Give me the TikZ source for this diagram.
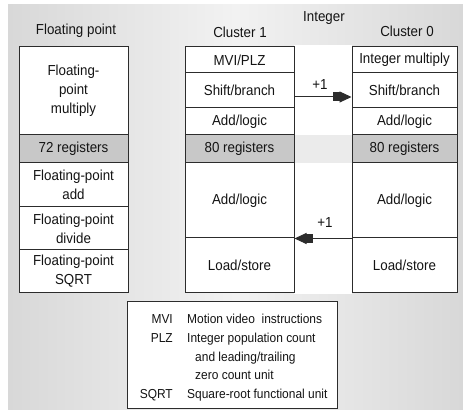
\documentclass[tikz,border=0pt]{standalone}
\usepackage{fontspec}
\setmainfont{Liberation Sans}[FakeStretch=0.92]
\usetikzlibrary{arrows.meta}
\definecolor{linec}{HTML}{2C2C2C}
\definecolor{regc}{HTML}{C8C8C8}
\definecolor{txtc}{HTML}{141414}
\definecolor{bgc}{HTML}{D8D8D8}
\definecolor{bgmid}{HTML}{F2F2F2}
\definecolor{bandc}{HTML}{EBEBEB}
\begin{document}
\begin{tikzpicture}[x=1pt,y=-1pt,
 cell/.style={draw=linec, line width=1pt, fill=white, inner sep=0pt, align=center, text=txtc, font=\fontsize{14.5}{19}\selectfont},
 reg/.style={cell, fill=regc},
 title/.style={text=txtc, font=\fontsize{14.5}{16}\selectfont, inner sep=0pt, anchor=base},
 leg/.style={text=txtc, font=\fontsize{13}{14}\selectfont, inner sep=0pt},
 arr/.style={draw=linec, line width=1pt, -{Rectangle[length=8pt,width=9pt,sep=-1.5pt]Triangle[length=12pt,width=11pt]}, fill=black},
 fpw/.style={minimum width=109pt},
 c1w/.style={minimum width=109pt},
 c0w/.style={minimum width=105pt},
]
\useasboundingbox (0,0) rectangle (463,411);
\fill[white] (0,0) rectangle (463,411);
\shade[left color=bgc, right color=bgc, middle color=bgmid] (8,5) rectangle (463,409);
\fill[white] (294,45) rectangle (352,294);
\fill[bandc] (294,135) rectangle (352,163);

% titles
\node[title] (tfp) at (76,35) {Floating point};
\node[title] (tc1) at (240,38) {Cluster 1};
\node[title] (tint) at (324,22) {Integer};
\node[title] (tc0) at (407,37) {Cluster 0};

% floating point column
\node[cell, fpw, minimum height=88pt] (fpmul) at (73.5,91) {Floating-\\point\\multiply};
\node[reg, fpw, minimum height=28pt] (fpreg) at (73.5,149) {72 registers};
\node[cell, fpw, minimum height=44pt] (fpadd) at (73.5,185) {Floating-point\\add};
\node[cell, fpw, minimum height=43pt] (fpdiv) at (73.5,228.5) {Floating-point\\divide};
\node[cell, fpw, minimum height=43pt] (fpsqrt) at (73.5,271.5) {Floating-point\\SQRT};

% cluster 1
\node[cell, c1w, minimum height=26pt] (c1mvi) at (239.5,60) {MVI/PLZ};
\node[cell, c1w, minimum height=35pt] (c1shift) at (239.5,90.5) {Shift/branch};
\node[cell, c1w, minimum height=27pt] (c1add) at (239.5,121.5) {Add/logic};
\node[reg, c1w, minimum height=28pt] (c1reg) at (239.5,149) {80 registers};
\node[cell, c1w, minimum height=75pt] (c1add2) at (239.5,200.5) {Add/logic};
\node[cell, c1w, minimum height=55pt] (c1ls) at (239.5,265.5) {Load/store};

% cluster 0
\node[cell, c0w, minimum height=26pt] (c0mul) at (404.5,60) {Integer multiply};
\node[cell, c0w, minimum height=35pt] (c0shift) at (404.5,90.5) {Shift/branch};
\node[cell, c0w, minimum height=27pt] (c0add) at (404.5,121.5) {Add/logic};
\node[reg, c0w, minimum height=28pt] (c0reg) at (404.5,149) {80 registers};
\node[cell, c0w, minimum height=75pt] (c0add2) at (404.5,200.5) {Add/logic};
\node[cell, c0w, minimum height=55pt] (c0ls) at (404.5,265.5) {Load/store};

% connectors
\coordinate (ya) at (0,97);
\draw[arr] (c1shift.east |- ya) -- (c0shift.west |- ya);
\node[title] (p1a) at (320,90) {+1};
\draw[arr] (c0add2.south west) -- (c1add2.south east);
\node[title] (p1b) at (325,228) {+1};

% legend
\node[draw=linec, line width=1pt, fill=white, minimum width=210pt, minimum height=106pt, inner sep=0pt] (legend) at (232,355) {};
\node[leg, anchor=base east] (kmvi) at (173,324) {MVI};
\node[leg, anchor=base west] (vmvi) at (187,324) {Motion video~ instructions};
\node[leg, anchor=base east] (kplz) at (173,343) {PLZ};
\node[leg, anchor=base west] (vplz) at (187,343) {Integer population count};
\node[leg, anchor=base west] (vplz2) at (195,362) {and leading/trailing};
\node[leg, anchor=base west] (vplz3) at (195,379) {zero count unit};
\node[leg, anchor=base east] (ksqrt) at (173,398) {SQRT};
\node[leg, anchor=base west] (vsqrt) at (187,398) {Square-root functional unit};
\end{tikzpicture}
\end{document}
